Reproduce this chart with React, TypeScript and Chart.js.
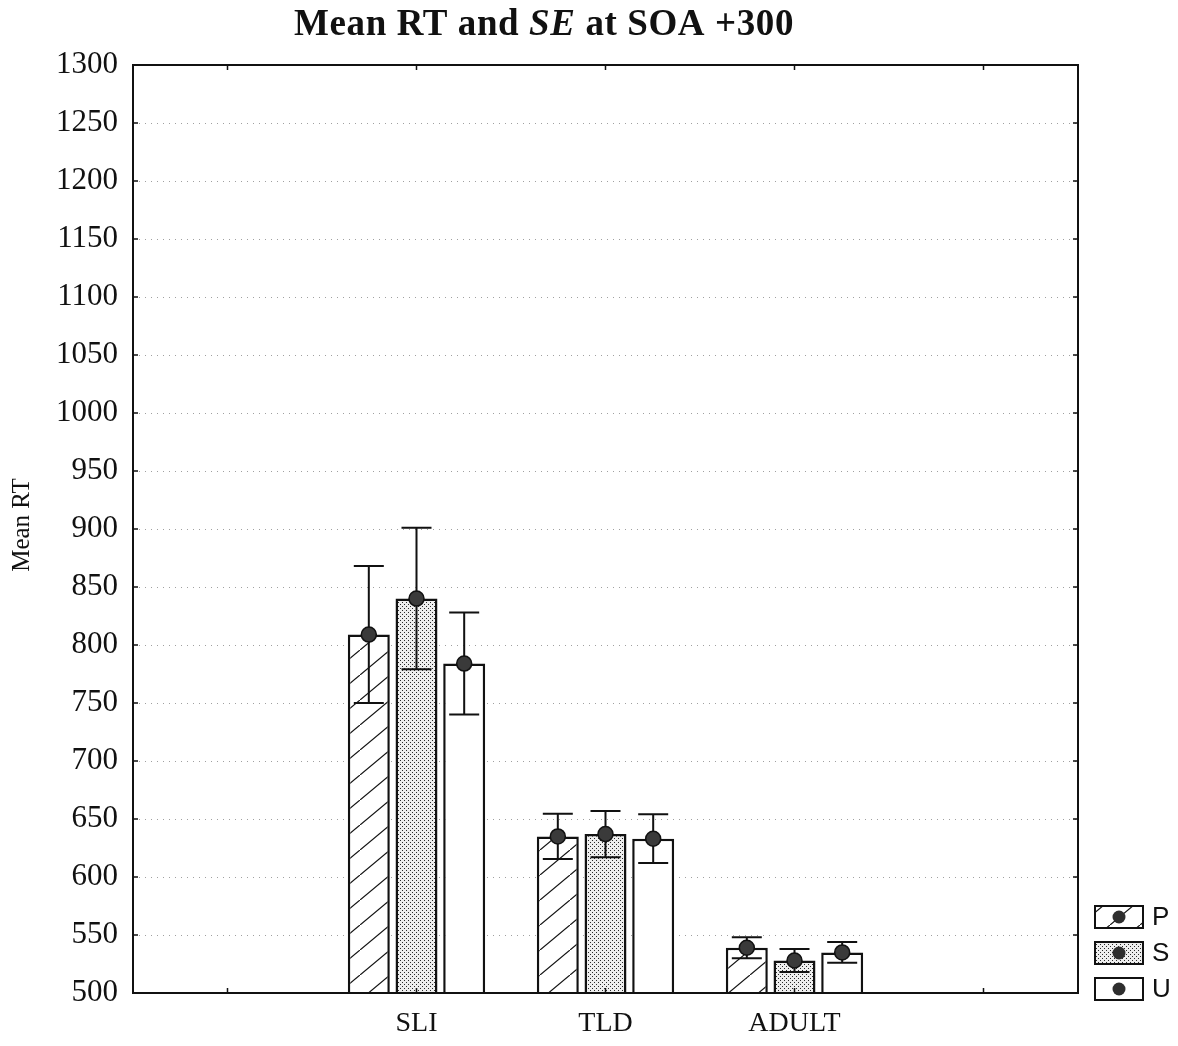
import React, { useEffect, useRef } from "react";
import { Chart, registerables } from "chart.js";

Chart.register(...registerables);

const TITLE_PARTS = [
  { text: "Mean RT and ", italic: false },
  { text: "SE", italic: true },
  { text: " at SOA +300", italic: false },
];
const Y_TITLE = "Mean RT";
const CATEGORIES = ["SLI", "TLD", "ADULT"];
const SERIES = ["P", "S", "U"];
const MEAN_P = [809, 635, 539];
const MEAN_S = [840, 637, 528];
const MEAN_U = [784, 633, 535];
const SE_P = [59, 19.5, 9];
const SE_S = [61, 20, 10];
const SE_U = [44, 21, 9];
const Y_MIN = 500;
const Y_MAX = 1300;
const Y_STEP = 50;

const SERIF = "'Liberation Serif', 'Times New Roman', serif";
const SANS = "'Liberation Sans', Arial, sans-serif";

function makeHatch(): CanvasPattern | string {
  const c = document.createElement("canvas");
  const w = 30, h = 25;
  c.width = w; c.height = h;
  const g = c.getContext("2d")!;
  g.fillStyle = "#ffffff";
  g.fillRect(0, 0, w, h);
  g.strokeStyle = "#111111";
  g.lineWidth = 1.2;
  g.beginPath();
  g.moveTo(-w, 2 * h); g.lineTo(2 * w, -h);
  g.stroke();
  return g.createPattern(c, "repeat") || "#ffffff";
}

function makeStipple(): CanvasPattern | string {
  const c = document.createElement("canvas");
  c.width = 4; c.height = 4;
  const g = c.getContext("2d")!;
  g.fillStyle = "#eeeeee";
  g.fillRect(0, 0, 4, 4);
  g.fillStyle = "#2a2a2a";
  g.fillRect(0, 0, 1, 1);
  g.fillRect(2, 2, 1, 1);
  return g.createPattern(c, "repeat") || "#dddddd";
}

export default function App() {
  const ref = useRef<HTMLCanvasElement | null>(null);

  useEffect(() => {
    if (!ref.current) return;
    const hatch = makeHatch();
    const stipple = makeStipple();
    const fills = [hatch, stipple, "#ffffff"];
    const means = [MEAN_P, MEAN_S, MEAN_U];
    const ses = [SE_P, SE_S, SE_U];
    const labels = ["", ...CATEGORIES, ""];
    const pad = (arr: number[]) => [null, ...arr, null];

    const decor = {
      id: "decor",
      afterDatasetsDraw(chart: any) {
        const ctx = chart.ctx as CanvasRenderingContext2D;
        const ys = chart.scales.y;
        ctx.save();
        for (let d = 0; d < SERIES.length; d++) {
          const meta = chart.getDatasetMeta(d);
          meta.data.forEach((el: any, j: number) => {
            const v = chart.data.datasets[d].data[j];
            if (v == null) return;
            const se = ses[d][j - 1];
            const x = el.x;
            const yHi = ys.getPixelForValue(v + se);
            const yLo = ys.getPixelForValue(v - se);
            const yM = ys.getPixelForValue(v);
            ctx.strokeStyle = "#111";
            ctx.lineWidth = 2;
            ctx.beginPath();
            ctx.moveTo(x, yHi); ctx.lineTo(x, yLo);
            ctx.moveTo(x - 15, yHi); ctx.lineTo(x + 15, yHi);
            ctx.moveTo(x - 15, yLo); ctx.lineTo(x + 15, yLo);
            ctx.stroke();
            ctx.beginPath();
            ctx.arc(x, yM, 7.5, 0, Math.PI * 2);
            ctx.fillStyle = "#3a3a3a";
            ctx.fill();
            ctx.lineWidth = 1.5;
            ctx.strokeStyle = "#111";
            ctx.stroke();
          });
        }
        ctx.restore();
      },
      afterDraw(chart: any) {
        const ctx = chart.ctx as CanvasRenderingContext2D;
        const a = chart.chartArea;
        const ys = chart.scales.y;
        const xs = chart.scales.x;
        ctx.save();
        ctx.strokeStyle = "#111";
        ctx.lineWidth = 2;
        ctx.strokeRect(a.left, a.top, a.right - a.left, a.bottom - a.top);
        ctx.lineWidth = 1.5;
        ctx.beginPath();
        for (let v = Y_MIN + Y_STEP; v < Y_MAX; v += Y_STEP) {
          const y = ys.getPixelForValue(v);
          ctx.moveTo(a.left, y); ctx.lineTo(a.left + 5, y);
          ctx.moveTo(a.right, y); ctx.lineTo(a.right - 5, y);
        }
        for (let i = 0; i < labels.length; i++) {
          const x = xs.getPixelForValue(i);
          ctx.moveTo(x, a.top); ctx.lineTo(x, a.top + 5);
          ctx.moveTo(x, a.bottom); ctx.lineTo(x, a.bottom - 5);
        }
        ctx.stroke();

        // title, fitted to the reference's span
        const fs = 37;
        const fonts = TITLE_PARTS.map((p) => `${p.italic ? "italic " : ""}bold ${fs}px ${SERIF}`);
        const targetW = 500;
        let total = 0;
        let nChars = 0;
        TITLE_PARTS.forEach((p, i) => {
          ctx.font = fonts[i];
          total += ctx.measureText(p.text).width;
          nChars += p.text.length;
        });
        const ls = Math.max(0, (targetW - total) / nChars);
        (ctx as any).letterSpacing = `${ls}px`;
        const widths = TITLE_PARTS.map((p, i) => {
          ctx.font = fonts[i];
          return ctx.measureText(p.text).width;
        });
        const tw = widths.reduce((s, w) => s + w, 0);
        let tx = 544 - tw / 2;
        ctx.fillStyle = "#111";
        ctx.textBaseline = "alphabetic";
        ctx.textAlign = "left";
        TITLE_PARTS.forEach((p, i) => {
          ctx.font = fonts[i];
          ctx.fillText(p.text, tx, 35);
          tx += widths[i];
        });
        (ctx as any).letterSpacing = "0px";

        ctx.save();
        ctx.translate(22, (a.top + a.bottom) / 2 - 4);
        ctx.rotate(-Math.PI / 2);
        ctx.font = `25px ${SERIF}`;
        ctx.textAlign = "center";
        ctx.textBaseline = "middle";
        ctx.fillStyle = "#111";
        ctx.fillText(Y_TITLE, 0, 0);
        ctx.restore();

        const bx = 1095, bw = 48, bh = 22;
        const by0 = 906, step = 36;
        SERIES.forEach((s, i) => {
          const by = by0 + i * step;
          ctx.fillStyle = fills[i] as any;
          ctx.fillRect(bx, by, bw, bh);
          ctx.strokeStyle = "#111";
          ctx.lineWidth = 2;
          ctx.strokeRect(bx, by, bw, bh);
          ctx.beginPath();
          ctx.arc(bx + bw / 2, by + bh / 2, 6.5, 0, Math.PI * 2);
          ctx.fillStyle = "#2e2e2e";
          ctx.fill();
          ctx.fillStyle = "#111";
          ctx.font = `26px ${SANS}`;
          ctx.textAlign = "left";
          ctx.textBaseline = "middle";
          ctx.fillText(s, bx + bw + 9, by + bh / 2 + 1);
        });
        ctx.restore();
      },
    };

    const chart = new Chart(ref.current, {
      type: "bar",
      data: {
        labels,
        datasets: SERIES.map((s, i) => ({
          label: s,
          data: pad(means[i]) as any,
          backgroundColor: fills[i] as any,
          borderColor: "#111",
          borderWidth: 2.5,
          barPercentage: 0.88,
          categoryPercentage: 0.757,
        })),
      },
      plugins: [decor],
      options: {
        responsive: false,
        animation: false,
        devicePixelRatio: 1,
        layout: { padding: { top: 65, right: 100, left: 0, bottom: 0 } },
        plugins: {
          legend: { display: false },
          title: { display: false },
          tooltip: { enabled: false },
        },
        scales: {
          x: {
            grid: { display: false, drawTicks: false },
            border: { display: false },
            ticks: {
              color: "#111",
              font: { family: SERIF, size: 28 },
              padding: 14,
              maxRotation: 0,
              autoSkip: false,
            },
            afterFit: (sc: any) => { sc.height = 53; },
          },
          y: {
            min: Y_MIN,
            max: Y_MAX,
            grid: {
              drawTicks: false,
              color: (c: any) =>
                c.tick && (c.tick.value === Y_MIN || c.tick.value === Y_MAX) ? "rgba(0,0,0,0)" : "#a0a0a0",
              lineWidth: 1,
            },
            border: { display: false, dash: [1, 5] },
            ticks: {
              stepSize: Y_STEP,
              color: "#111",
              font: { family: SERIF, size: 31 },
              padding: 15,
              callback: (v: any) => String(v),
            },
            afterFit: (sc: any) => { sc.width = 133; },
          },
        },
      } as any,
    });
    return () => chart.destroy();
  }, []);

  return (
    <div style={{ position: "absolute", left: 0, top: 0, width: 1178, height: 1046, background: "#fff" }}>
      <canvas ref={ref} width={1178} height={1046} style={{ display: "block" }} />
    </div>
  );
}
